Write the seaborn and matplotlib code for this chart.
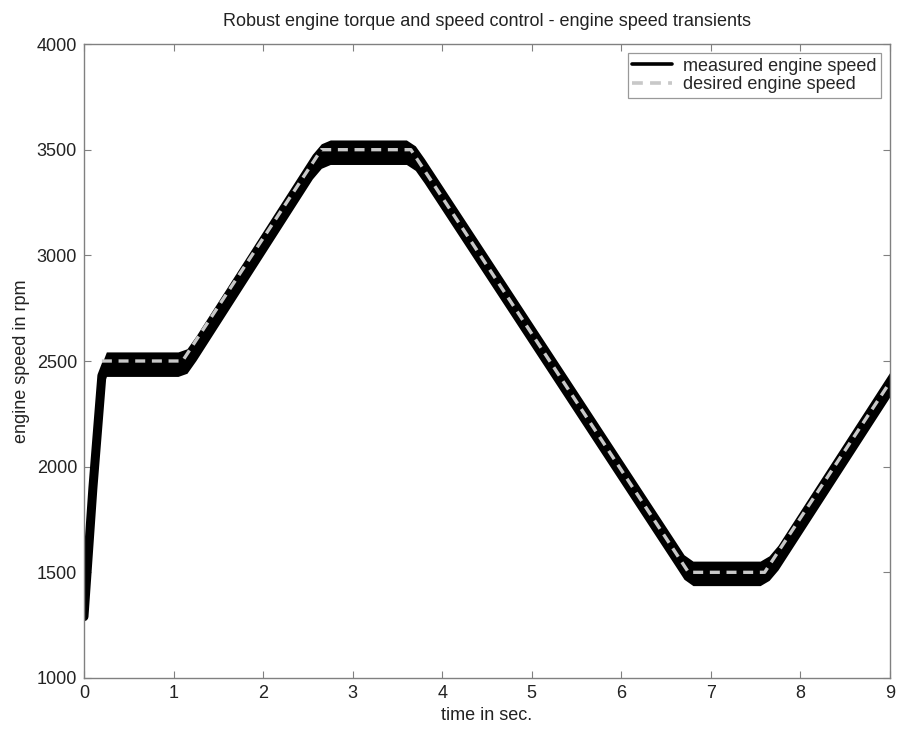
import numpy as np
import pandas as pd
import matplotlib
matplotlib.use("Agg")
import matplotlib.pyplot as plt
import seaborn as sns

# desired engine speed profile (breakpoints)
desired_t = [0.2, 1.1, 2.65, 3.65, 6.75, 7.6, 9.0]
desired_rpm = [2500, 2500, 3500, 3500, 1500, 1500, 2400]

# measured engine speed (centre of the noisy band)
measured_t = [0.0, 0.1, 0.2, 0.25, 1.05, 1.15, 1.25, 2.55, 2.65, 2.75, 3.6, 3.7, 3.8,
              6.6, 6.7, 6.8, 7.55, 7.65, 7.75, 9.0]
measured_rpm = [1290, 1900, 2430, 2485, 2485, 2500, 2560, 3420, 3470, 3488, 3488, 3460, 3400,
                1590, 1525, 1495, 1495, 1520, 1570, 2390]
# half-width of the measurement noise band (rpm)
measured_noise = 58

x_ticks = [0, 1, 2, 3, 4, 5, 6, 7, 8, 9]
y_ticks = [1000, 1500, 2000, 2500, 3000, 3500, 4000]

sns.set_style("white")
plt.rcParams['font.family'] = ['Liberation Sans', 'DejaVu Sans']

FS = 13
fig = plt.figure(figsize=(8.98, 7.29), dpi=100)
ax = fig.add_axes([0.0935, 0.070, 0.8976, 0.8696])

dm = pd.DataFrame({"t": measured_t, "rpm": measured_rpm})
dd = pd.DataFrame({"t": desired_t, "rpm": desired_rpm})

t_arr = np.array(measured_t)
r_arr = np.array(measured_rpm)
ax.fill_between(t_arr, r_arr - measured_noise, r_arr + measured_noise,
                color="black", linewidth=0)
sns.lineplot(data=dm, x="t", y="rpm", ax=ax, color="black", linewidth=6.5,
             label="measured engine speed", solid_joinstyle="round",
             solid_capstyle="round")
sns.lineplot(data=dd, x="t", y="rpm", ax=ax, color="#c8c8c8", linewidth=2.4,
             linestyle=(0, (3, 2)), label="desired engine speed")

ax.set_xlim(0, 9)
ax.set_ylim(1000, 4000)
ax.set_xticks(x_ticks)
ax.set_yticks(y_ticks)
ax.tick_params(direction="in", length=5, width=0.8, colors="#808080",
               labelcolor="#222222", labelsize=FS, top=True, right=True,
               bottom=True, left=True, pad=5)
for s in ax.spines.values():
    s.set_color("#808080")
    s.set_linewidth(1.0)

ax.set_xlabel("time in sec.", fontsize=FS, color="#222222", labelpad=4)
ax.set_ylabel("engine speed in rpm", fontsize=FS, color="#222222", labelpad=5)
ax.set_title("Robust engine torque and speed control - engine speed transients",
             fontsize=FS, color="#222222", pad=13)

leg = ax.legend(loc="upper right", fontsize=FS, frameon=True, fancybox=False,
                borderaxespad=0.5, handlelength=2.2, borderpad=0.25,
                labelspacing=0.1, handletextpad=0.6)
leg.get_frame().set_edgecolor("#808080")
leg.get_frame().set_linewidth(0.9)
for h in leg.legend_handles:
    h.set_linewidth(2.6)

fig.savefig("out.png", dpi=100, facecolor="white")
